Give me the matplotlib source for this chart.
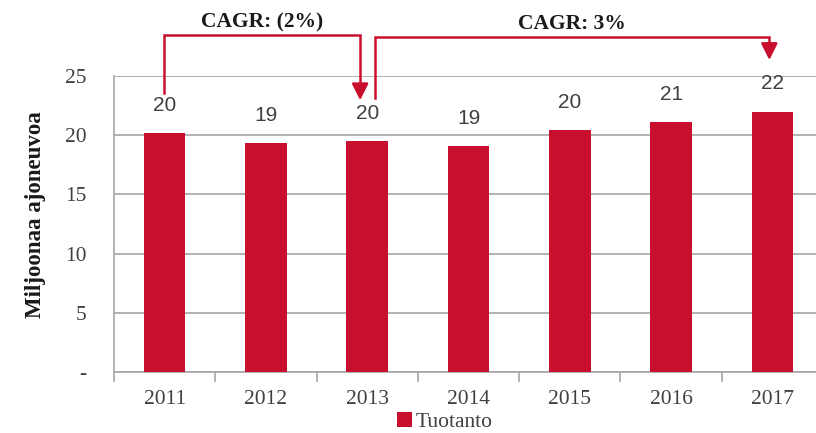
import matplotlib
matplotlib.use('Agg')
import matplotlib.pyplot as plt
import numpy as np

years = ['2011', '2012', '2013', '2014', '2015', '2016', '2017']
production = [20.2, 19.3, 19.5, 19.1, 20.4, 21.1, 22.0]
value_labels = ['20', '19', '20', '19', '20', '21', '22']
y_ticks = [0, 5, 10, 15, 20, 25]
y_ticklabels = ['-', '5', '10', '15', '20', '25']
series_name = 'Tuotanto'
y_title = 'Miljoonaa ajoneuvoa'
# (start year, end year, label)
cagr_spans = [('2011', '2013', 'CAGR: (2%)'), ('2013', '2017', 'CAGR: 3%')]

RED = '#C8102E'
GREY = '#404040'
LINE = '#A6A6A6'
SERIF = 'Liberation Serif'
SANS = 'Liberation Sans'

fig = plt.figure(figsize=(8.16, 4.33), dpi=100)
ax = fig.add_axes([0.1397, 0.1409, 0.8689, 0.6836])

x = np.arange(len(years))
bars = ax.bar(x, production, width=0.41, color=RED, label=series_name, zorder=3)

ax.set_xlim(-0.5, len(years) - 0.5)
ax.set_ylim(0, 25)
ax.set_yticks(y_ticks)
ax.set_yticklabels(y_ticklabels, fontfamily=SERIF, fontsize=15.5, color=GREY)
ax.set_xticks(x)
ax.set_xticklabels(years, fontfamily=SERIF, fontsize=15.5, color=GREY)
ax.tick_params(axis='y', length=0, pad=20)
ax.tick_params(axis='x', length=0, pad=13)
# tick marks between categories
ax.set_xticks(np.arange(len(years) + 1) - 0.5, minor=True)
ax.tick_params(axis='x', which='minor', length=7, color=LINE, width=1.2)
ax.yaxis.grid(True, color=LINE, linewidth=1.2, zorder=0)

for s in ['top', 'right']:
    ax.spines[s].set_visible(False)
for s in ['left', 'bottom']:
    ax.spines[s].set_color(LINE)
    ax.spines[s].set_linewidth(1.2)

ax.set_ylabel(y_title, fontfamily=SERIF, fontsize=16.5, fontweight='bold', color='#1a1a1a')
ax.yaxis.set_label_coords(-0.096, 0.53)

for xi, val, lab in zip(x, production, value_labels):
    ax.annotate(lab, (xi, val), xytext=(0, 13), textcoords='offset points',
                ha='center', va='bottom', fontfamily=SANS, fontsize=15, color=GREY)

# CAGR brackets
for i, (start, end, text) in enumerate(cagr_spans):
    i0 = years.index(start)
    i1 = years.index(end)
    top = 28.45 if i == 0 else 28.3
    if i == 0:
        x0, x1 = i0 - 0.01, i1 - 0.07
        y0 = production[i0] + 3.35
        tip = production[i1] + 3.45
    else:
        x0, x1 = i0 + 0.08, i1 - 0.03
        y0 = production[i0] + 3.65
        tip = production[i1] + 4.35
    ax.plot([x0, x0, x1, x1], [y0, top, top, tip + 1.0], color=RED,
            linewidth=1.8, clip_on=False, solid_joinstyle='miter')
    ax.annotate('', xy=(x1, tip), xytext=(x1, tip + 1.3),
                arrowprops=dict(arrowstyle='-|>,head_width=0.5,head_length=1.0',
                                color=RED, lw=1.8, shrinkA=0, shrinkB=0),
                annotation_clip=False)
    ax.text((x0 + x1) / 2, top + 1.05, text, ha='center', va='center',
            fontfamily=SERIF, fontsize=15.5, fontweight='bold', color='#1a1a1a')

leg = fig.legend(handles=[bars], labels=[series_name], loc='center',
                 bbox_to_anchor=(0.545, 0.025), frameon=False,
                 prop={'family': SERIF, 'size': 15.5}, handlelength=0.7,
                 handleheight=0.7, handletextpad=0.2)
for t in leg.get_texts():
    t.set_color(GREY)

fig.savefig('out.png', dpi=100)
